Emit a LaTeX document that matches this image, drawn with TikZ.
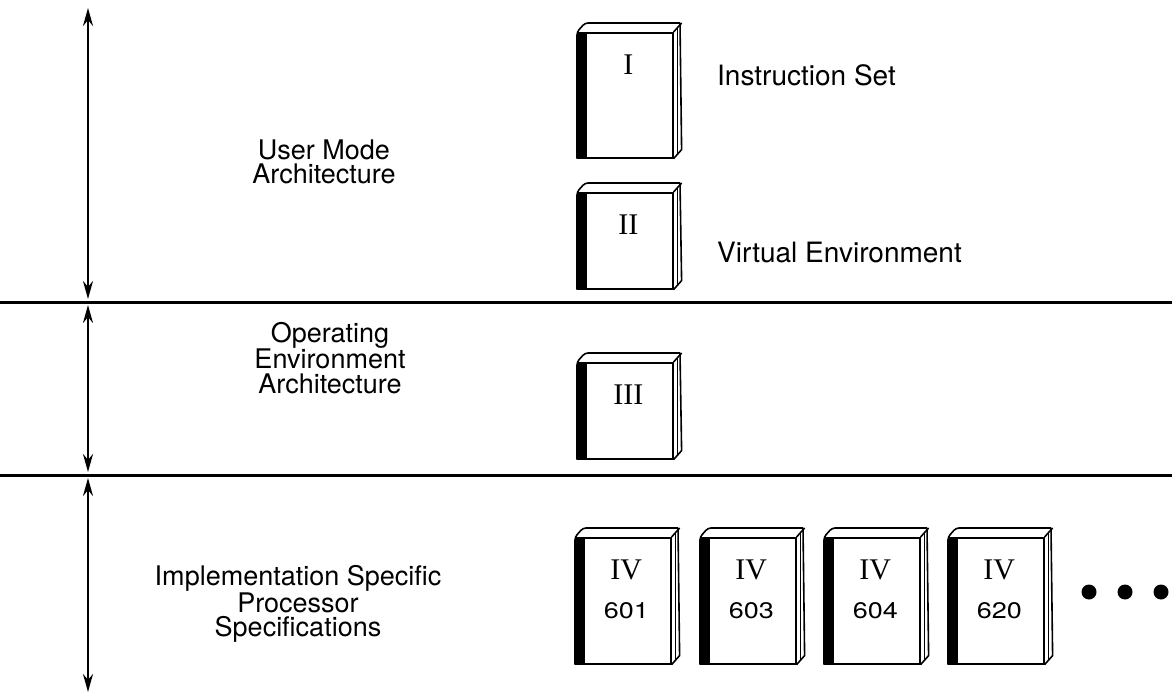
\documentclass[tikz,border=0pt]{standalone}
\usepackage{fontspec}
\setmainfont{TeX Gyre Heros}
\newfontfamily\romanfont{Liberation Serif}
\newfontfamily\widefont[FakeStretch=1.2]{TeX Gyre Heros}
\usetikzlibrary{arrows.meta,calc}

% one book: #1 name, #2 left x, #3 top y of the front face, #4 height, #5 numeral
\newcommand\drawbook[5]{%
  \node[bookface, minimum height=#4] (#1) at (#2,#3) {};
  \fill (#1.north west) rectangle ($(#1.south west)+(10,0)$);
  \draw[booklines, rounded corners=3pt] (#1.south west) -- (#1.north west) -- ++(8,-9) -- ++(95,0);
  \draw[booklines] ($(#1.north west)+(103,-9)$) -- ($(#1.south east)+(8,-9)$) -- (#1.south east);
  \draw[booklines] (#1.north east) -- ++(8,-9);
  \draw[thin] ($(#1.north east)+(4,-5)$) -- ($(#1.south east)+(4,-5)$);
  \node[numeral] (#1-n) at ($(#1.north)+(3,33)$) {#5};
}

\begin{document}
\begin{tikzpicture}[x=1pt,y=-1pt,
  bookface/.style={draw, line width=1.6pt, fill=white, anchor=north west,
    minimum width=95pt, inner sep=0pt},
  booklines/.style={line width=1.6pt},
  numeral/.style={font=\romanfont\fontsize{30}{30}\selectfont},
  model/.style={font=\widefont\fontsize{22.5}{22.5}\selectfont},
  label/.style={font=\fontsize{27}{24.5}\selectfont, align=center, inner sep=0pt},
  side/.style={font=\fontsize{28}{28}\selectfont, anchor=west, inner sep=0pt},
  divider/.style={line width=3pt},
  span/.style={line width=2pt, {Stealth[length=18pt,width=10pt]}-{Stealth[length=18pt,width=10pt]}},
  ellipsis/.style={circle, fill, minimum size=15pt, inner sep=0pt}]
\useasboundingbox (0,0) rectangle (1172,695);

% level separators
\coordinate (l1a) at (0,302);  \coordinate (l1b) at (1172,302);
\coordinate (l2a) at (0,475);  \coordinate (l2b) at (1172,475);
\draw[divider] (l1a) -- (l1b);
\draw[divider] (l2a) -- (l2b);

% extents of the three levels
\coordinate (a1t) at (88,8);   \coordinate (a1b) at (88,299);
\coordinate (a2t) at (88,305); \coordinate (a2b) at (88,472);
\coordinate (a3t) at (88,478); \coordinate (a3b) at (88,692);
\draw[span] (a1t) -- (a1b);
\draw[span] (a2t) -- (a2b);
\draw[span] (a3t) -- (a3b);

% level names
\node[label] (user) at (324,162) {User Mode\\Architecture};
\node[label] (oper) at (330,358) {Operating\\Environment\\Architecture};
\node[label] (impl) at (298,604) {Implementation Specific\\Processor\\Specifications};

% books of the architecture
\drawbook{bI}{577}{32}{125}{I}
\drawbook{bII}{577}{192}{96}{II}
\drawbook{bIII}{577}{362}{96}{III}

\node[side] (iset) at (717,75) {Instruction Set};
\node[side] (venv) at (717,253) {Virtual Environment};

% processor specific books
\drawbook{b601}{575}{537}{126}{IV}
\drawbook{b603}{700}{537}{126}{IV}
\drawbook{b604}{824}{537}{126}{IV}
\drawbook{b620}{948}{537}{126}{IV}
\node[model] (m601) at ($(b601.north)+(3,74)$) {601};
\node[model] (m603) at ($(b603.north)+(3,74)$) {603};
\node[model] (m604) at ($(b604.north)+(3,74)$) {604};
\node[model] (m620) at ($(b620.north)+(3,74)$) {620};

\node[ellipsis] (d1) at (1089,592) {};
\node[ellipsis] (d2) at (1125,592) {};
\node[ellipsis] (d3) at (1161,592) {};
\end{tikzpicture}
\end{document}
